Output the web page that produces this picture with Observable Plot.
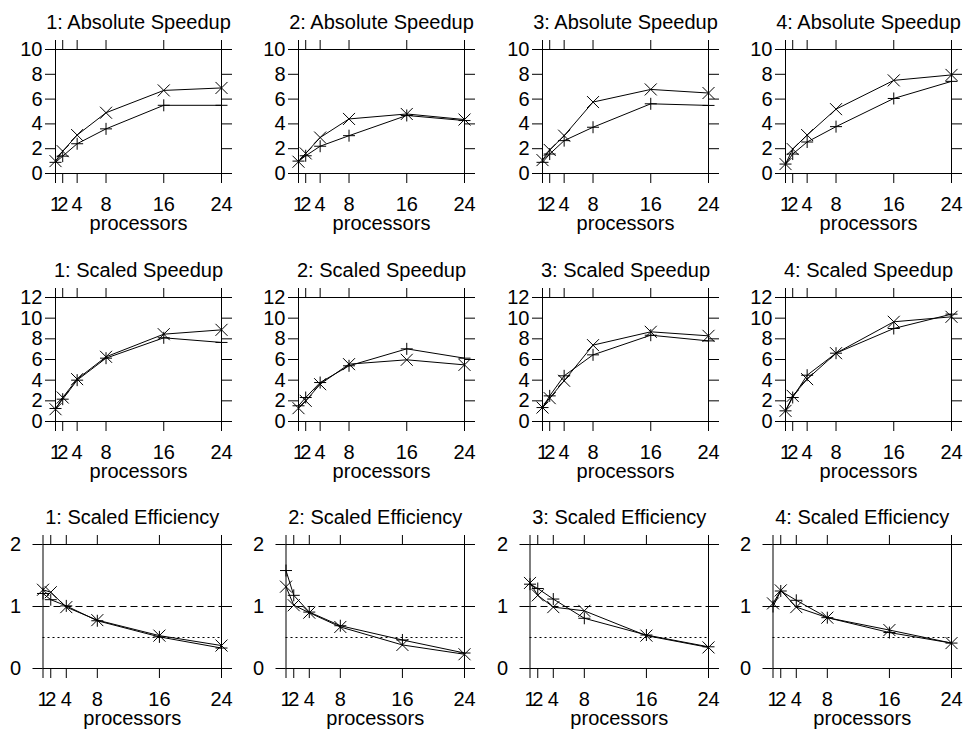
<!DOCTYPE html>
<html>
<head>
<meta charset="utf-8">
<script src="https://cdn.jsdelivr.net/npm/d3@7"></script>
<script src="https://cdn.jsdelivr.net/npm/@observablehq/plot@0.6"></script>
<style>
  html, body { margin: 0; padding: 0; background: #fff; }
  #chart { position: relative; width: 965px; height: 733px; overflow: hidden; background: #fff; }
  .panel { position: absolute; width: 243px; height: 245px; }
  .panel svg { max-width: none !important; }
</style>
</head>
<body>
<div id="chart"></div>
<script>
// ---- data ----
const procs = [1, 2, 4, 8, 16, 24];
const panelIds = ["1", "2", "3", "4"];
const rowTitles = ["Absolute Speedup", "Scaled Speedup", "Scaled Efficiency"];
const yTicksAbs = [0, 2, 4, 6, 8, 10];
const yTicksScaled = [0, 2, 4, 6, 8, 10, 12];
const yTicksEff = [0, 1, 2];
const effRefDashed = [1];
const effRefDotted = [0.5];

const absPlus = [
  [0.9, 1.4, 2.4, 3.6, 5.5, 5.5],
  [1.0, 1.43, 2.2, 3.05, 4.68, 4.27],
  [0.9, 1.57, 2.65, 3.73, 5.62, 5.49],
  [0.76, 1.57, 2.54, 3.78, 6.05, 7.43]
];
const absTimes = [
  [1.0, 1.8, 3.1, 4.9, 6.7, 6.9],
  [0.95, 1.62, 2.9, 4.4, 4.8, 4.35],
  [1.08, 1.9, 3.05, 5.76, 6.78, 6.49],
  [0.76, 1.97, 3.1, 5.19, 7.51, 7.95]
];
const scaledPlus = [
  [1.26, 2.16, 4.0, 6.13, 8.1, 7.65],
  [1.52, 2.32, 3.77, 5.39, 7.03, 6.13],
  [1.35, 2.48, 4.42, 6.45, 8.35, 7.8],
  [1.03, 2.32, 4.48, 6.61, 9.0, 10.39]
];
const scaledTimes = [
  [1.19, 2.32, 4.1, 6.26, 8.45, 8.87],
  [1.29, 2.0, 3.61, 5.55, 5.97, 5.48],
  [1.35, 2.26, 3.94, 7.39, 8.68, 8.29],
  [1.03, 2.48, 4.1, 6.61, 9.65, 10.13]
];
const effPlus = [
  [1.21, 1.11, 1.01, 0.77, 0.51, 0.33],
  [1.58, 1.18, 0.91, 0.69, 0.46, 0.25],
  [1.36, 1.29, 1.12, 0.81, 0.54, 0.35],
  [1.0, 1.25, 1.1, 0.82, 0.58, 0.41]
];
const effTimes = [
  [1.27, 1.23, 0.99, 0.78, 0.53, 0.37],
  [1.32, 1.02, 0.9, 0.67, 0.38, 0.23],
  [1.38, 1.18, 0.99, 0.93, 0.53, 0.34],
  [1.05, 1.26, 0.99, 0.82, 0.62, 0.41]
];

// ---- symbols (gnuplot-like + and x) ----
const plusSym = {draw(ctx) { const r = 6; ctx.moveTo(-r, 0); ctx.lineTo(r, 0); ctx.moveTo(0, -r); ctx.lineTo(0, r); }};
const timesSym = {draw(ctx) { const r = 6; ctx.moveTo(-r, -r); ctx.lineTo(r, r); ctx.moveTo(-r, r); ctx.lineTo(r, -r); }};

const rows = [
  {title: rowTitles[0], plus: absPlus, times: absTimes, ticks: yTicksAbs, max: 10, eff: false, ml: 55, pad: 3},
  {title: rowTitles[1], plus: scaledPlus, times: scaledTimes, ticks: yTicksScaled, max: 12, eff: false, ml: 55, pad: 3},
  {title: rowTitles[2], plus: effPlus, times: effTimes, ticks: yTicksEff, max: 2, eff: true, ml: 42.5, pad: 12}
];

const chart = document.getElementById("chart");
const FONT = "'Liberation Sans', Arial, Helvetica, sans-serif";
const fmt = d => String(d);

rows.forEach((row, ri) => {
  panelIds.forEach((pid, ci) => {
    const data = [];
    procs.forEach((p, i) => data.push({p, v: row.plus[ci][i], s: "plus"}));
    procs.forEach((p, i) => data.push({p, v: row.times[ci][i], s: "times"}));
    const plusData = data.filter(d => d.s === "plus");
    const timesData = data.filter(d => d.s === "times");

    const marks = [
      Plot.frame({stroke: "black", strokeWidth: 1}),
      Plot.axisX({ticks: procs, tickSize: 10, tickPadding: 13, tickFormat: fmt, label: null, stroke: "black", fill: "black"}),
      Plot.axisX({anchor: "top", ticks: procs, tickSize: 10, tickFormat: () => "", label: null, stroke: "black"}),
      Plot.axisY({ticks: row.ticks, tickSize: 10, tickPadding: row.pad, tickFormat: fmt, label: null, stroke: "black", fill: "black"}),
      Plot.axisY({anchor: "right", ticks: row.ticks, tickSize: 10, tickFormat: () => "", label: null, stroke: "black"})
    ];
    if (row.eff) {
      marks.push(Plot.ruleY(effRefDashed, {stroke: "black", strokeWidth: 1, strokeDasharray: "7,4"}));
      marks.push(Plot.ruleY(effRefDotted, {stroke: "black", strokeWidth: 1, strokeDasharray: "2,3"}));
    }
    marks.push(
      Plot.line(data, {x: "p", y: "v", z: "s", stroke: "black", strokeWidth: 1}),
      Plot.dot(plusData, {x: "p", y: "v", symbol: plusSym, fill: "none", stroke: "black", strokeWidth: 1}),
      Plot.dot(timesData, {x: "p", y: "v", symbol: timesSym, fill: "none", stroke: "black", strokeWidth: 1}),
      Plot.text([`${pid}: ${row.title}`], {frameAnchor: "top", lineAnchor: "middle", dy: -27, fontSize: 20, fill: "black"}),
      Plot.text(["processors"], {frameAnchor: "bottom", lineAnchor: "middle", dy: 50, fontSize: 20, fill: "black"})
    );

    const svg = Plot.plot({
      width: 243,
      height: 245,
      marginLeft: row.ml,
      marginRight: 22,
      marginTop: 49,
      marginBottom: 72,
      x: {domain: [1, 24]},
      y: {domain: [0, row.max]},
      style: {fontFamily: FONT, fontSize: "20px", background: "transparent", color: "black", overflow: "visible", maxWidth: "none"},
      marks
    });
    const div = document.createElement("div");
    div.className = "panel";
    div.style.left = (ci * 243.33) + "px";
    div.style.top = (ri * 247.5) + "px";
    div.appendChild(svg);
    chart.appendChild(div);
  });
});
</script>
</body>
</html>
